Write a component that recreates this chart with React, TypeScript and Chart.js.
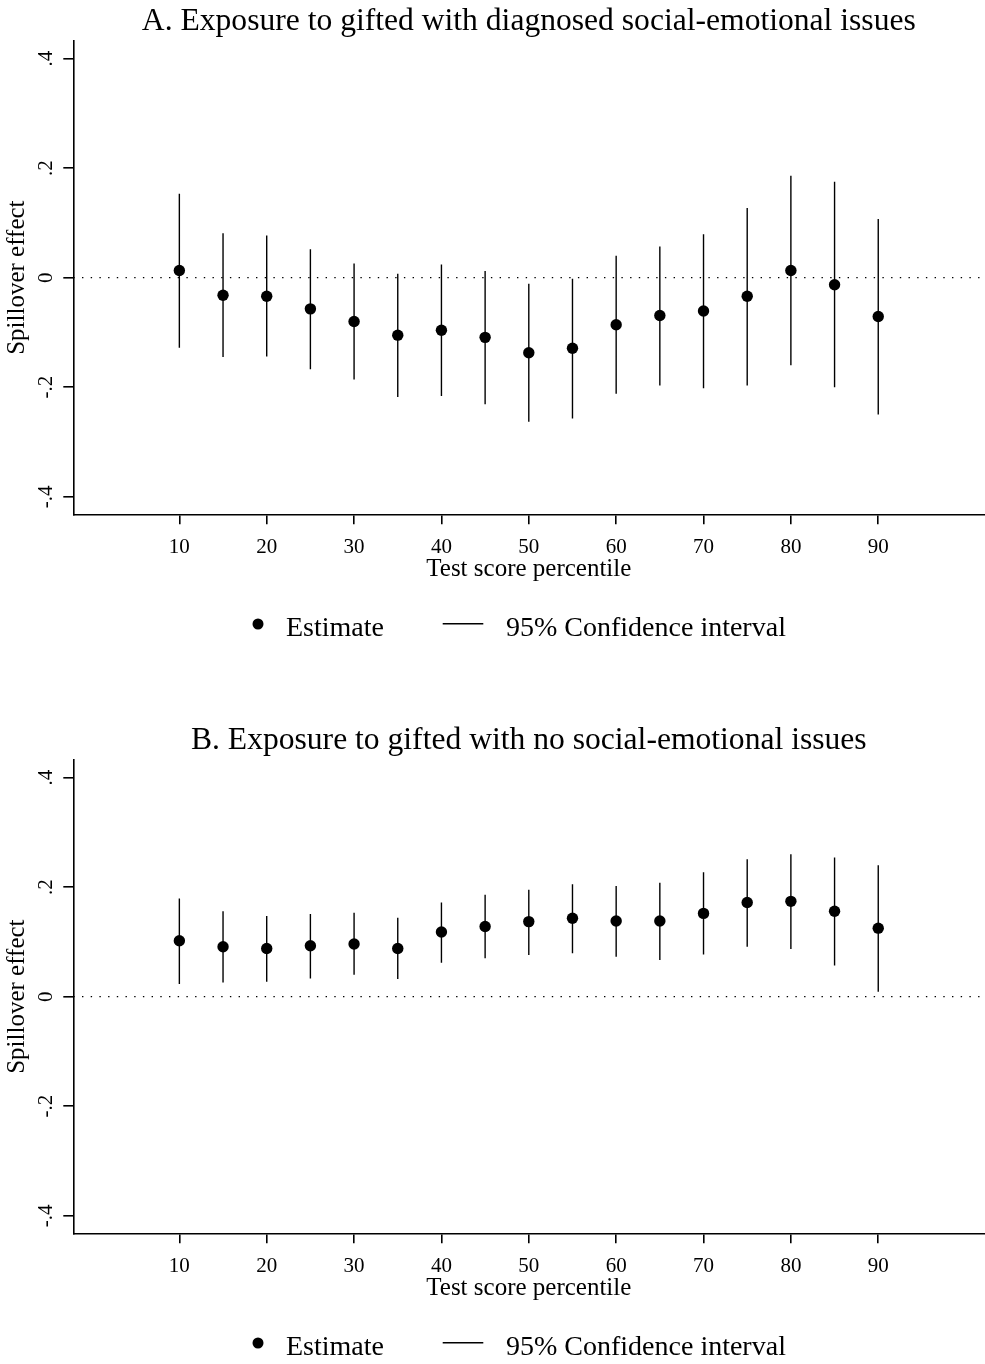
import React, { useEffect, useRef } from "react";
import { Chart, registerables } from "chart.js";

Chart.register(...registerables);

// ---------------- data ----------------
const PERCENTILES = [10, 15, 20, 25, 30, 35, 40, 45, 50, 55, 60, 65, 70, 75, 80, 85, 90];
const X_TICKS = [10, 20, 30, 40, 50, 60, 70, 80, 90];
const Y_TICKS = [-0.4, -0.2, 0, 0.2, 0.4];
const Y_TICK_LABELS = ["-.4", "-.2", "0", ".2", ".4"];
const X_RANGE = [-2.14, 102.14];
const Y_RANGE = [-0.432, 0.432];

const TITLE_A = "A. Exposure to gifted with diagnosed social-emotional issues";
const TITLE_B = "B. Exposure to gifted with no social-emotional issues";
const X_TITLE = "Test score percentile";
const Y_TITLE = "Spillover effect";
const LEGEND_LABELS = ["Estimate", "95% Confidence interval"];

const EST_A = [0.013, -0.032, -0.034, -0.057, -0.080, -0.105, -0.096, -0.109, -0.137, -0.129, -0.086, -0.069, -0.061, -0.034, 0.013, -0.013, -0.071];
const HI_A = [0.153, 0.081, 0.077, 0.052, 0.026, 0.007, 0.024, 0.012, -0.011, -0.002, 0.040, 0.057, 0.079, 0.127, 0.186, 0.175, 0.107];
const LO_A = [-0.128, -0.145, -0.144, -0.167, -0.186, -0.218, -0.216, -0.231, -0.263, -0.257, -0.212, -0.197, -0.202, -0.197, -0.160, -0.200, -0.250];

const EST_B = [0.102, 0.091, 0.088, 0.093, 0.096, 0.088, 0.118, 0.128, 0.137, 0.143, 0.138, 0.138, 0.152, 0.172, 0.174, 0.156, 0.125];
const HI_B = [0.179, 0.156, 0.147, 0.151, 0.153, 0.144, 0.172, 0.186, 0.195, 0.205, 0.202, 0.208, 0.227, 0.251, 0.260, 0.254, 0.240];
const LO_B = [0.023, 0.026, 0.027, 0.033, 0.040, 0.032, 0.062, 0.070, 0.076, 0.079, 0.073, 0.067, 0.077, 0.091, 0.087, 0.057, 0.009];

// ---------------- styling ----------------
const FONT = "Liberation Serif";
const W = 985;
const PLOT_TOP = 41;
const PLOT_BOTTOM = 514.3;
const PLOT_RIGHT = 984.3;
const Y_AXIS_W = 73.3;
const X_AXIS_H = 76;

const decorPlugin = {
  id: "decor",
  afterDraw(chart: any, _args: any, opts: any) {
    const { ctx, chartArea } = chart;
    ctx.save();
    ctx.fillStyle = "#000";
    ctx.strokeStyle = "#000";
    ctx.font = `31.6px "${FONT}"`;
    ctx.textAlign = "center";
    ctx.textBaseline = "alphabetic";
    ctx.fillText(opts.title, (chartArea.left + chartArea.right) / 2, 29.5);

    // legend
    ctx.font = `28px "${FONT}"`;
    ctx.textAlign = "left";
    ctx.beginPath();
    ctx.arc(258, 624, 5.5, 0, Math.PI * 2);
    ctx.fill();
    ctx.fillText(LEGEND_LABELS[0], 286, 636);
    ctx.lineWidth = 1.4;
    ctx.beginPath();
    ctx.moveTo(442.7, 623.7);
    ctx.lineTo(483.3, 623.7);
    ctx.stroke();
    ctx.fillText(LEGEND_LABELS[1], 506, 636);
    ctx.restore();
  },
};

function Panel(props: { title: string; est: number[]; lo: number[]; hi: number[]; height: number; top: number }) {
  const ref = useRef<HTMLCanvasElement | null>(null);
  useEffect(() => {
    if (!ref.current) return;
    const ciData: any[] = [];
    PERCENTILES.forEach((p, i) => {
      ciData.push({ x: p, y: props.lo[i] }, { x: p, y: props.hi[i] }, { x: p, y: null });
    });
    const estData = PERCENTILES.map((p, i) => ({ x: p, y: props.est[i] }));
    const zeroData = [
      { x: X_RANGE[0], y: 0 },
      { x: X_RANGE[1], y: 0 },
    ];
    const chart = new Chart(ref.current, {
      type: "scatter",
      data: {
        datasets: [
          {
            label: LEGEND_LABELS[0],
            data: estData,
            pointRadius: 5.7,
            pointBackgroundColor: "#000",
            pointBorderWidth: 0,
            borderWidth: 0,
          } as any,
          {
            type: "line",
            label: LEGEND_LABELS[1],
            data: ciData,
            borderColor: "#000",
            borderWidth: 1.4,
            pointRadius: 0,
            spanGaps: false,
            tension: 0,
          } as any,
          {
            type: "line",
            label: "zero",
            data: zeroData,
            borderColor: "#000",
            borderWidth: 1.3,
            borderDash: [1.4, 7.3],
            pointRadius: 0,
          } as any,
        ],
      },
      options: {
        responsive: false,
        animation: false,
        devicePixelRatio: 1,
        events: [],
        layout: {
          autoPadding: false,
          padding: {
            left: 0,
            right: W - PLOT_RIGHT,
            top: PLOT_TOP,
            bottom: props.height - PLOT_BOTTOM - X_AXIS_H,
          },
        },
        plugins: {
          legend: { display: false },
          tooltip: { enabled: false },
          title: { display: false },
          decor: { title: props.title },
        } as any,
        scales: {
          x: {
            type: "linear",
            min: X_RANGE[0],
            max: X_RANGE[1],
            afterBuildTicks: (s: any) => {
              s.ticks = X_TICKS.map((v) => ({ value: v }));
            },
            afterFit: (s: any) => {
              s.height = X_AXIS_H;
            },
            grid: { drawOnChartArea: false, drawTicks: true, tickLength: 10, color: "#000", lineWidth: 1.6 },
            border: { display: true, color: "#000", width: 1.6 },
            ticks: {
              color: "#000",
              font: { family: FONT, size: 21 },
              padding: 11,
              maxRotation: 0,
              minRotation: 0,
              autoSkip: false,
              callback: (v: any) => String(v),
            },
            title: {
              display: true,
              text: X_TITLE,
              color: "#000",
              font: { family: FONT, size: 25 },
              padding: { top: 0, bottom: 6.3 },
            },
          },
          y: {
            type: "linear",
            min: Y_RANGE[0],
            max: Y_RANGE[1],
            afterBuildTicks: (s: any) => {
              s.ticks = Y_TICKS.map((v) => ({ value: v }));
            },
            afterFit: (s: any) => {
              s.width = Y_AXIS_W;
            },
            grid: { drawOnChartArea: false, drawTicks: true, tickLength: 10, color: "#000", lineWidth: 1.6 },
            border: { display: true, color: "#000", width: 1.6 },
            ticks: {
              color: "#000",
              font: { family: FONT, size: 21 },
              padding: 5,
              minRotation: 90,
              maxRotation: 90,
              crossAlign: "center",
              autoSkip: false,
              callback: (_v: any, i: number) => Y_TICK_LABELS[i],
            },
            title: {
              display: true,
              text: Y_TITLE,
              color: "#000",
              font: { family: FONT, size: 25 },
              padding: { top: 2.5, bottom: 0 },
            },
          },
        },
      } as any,
      plugins: [decorPlugin as any],
    });
    return () => chart.destroy();
  }, []);
  return (
    <canvas
      ref={ref}
      width={W}
      height={props.height}
      style={{ position: "absolute", left: 0, top: props.top, width: W, height: props.height, display: "block" }}
    />
  );
}

export default function App() {
  return (
    <div style={{ position: "absolute", left: 0, top: 0, width: W, height: 1364, background: "#fff", overflow: "hidden" }}>
      <Panel title={TITLE_A} est={EST_A} lo={LO_A} hi={HI_A} height={719} top={0} />
      <Panel title={TITLE_B} est={EST_B} lo={LO_B} hi={HI_B} height={645} top={719} />
    </div>
  );
}
